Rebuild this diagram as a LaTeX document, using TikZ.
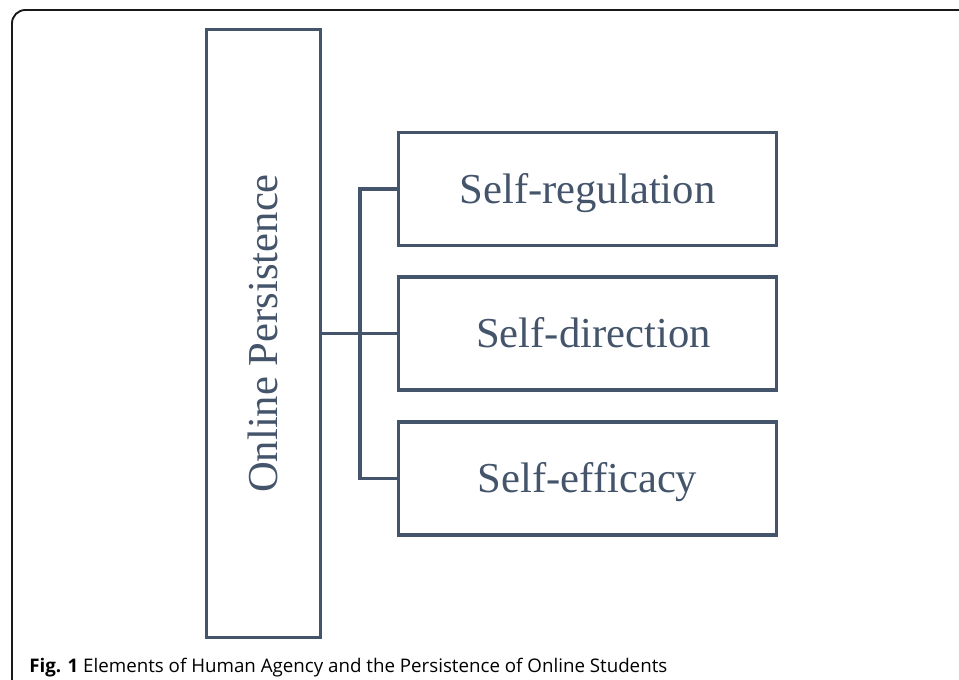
\documentclass[tikz,border=0pt]{standalone}
\usepackage{fontspec}
\setmainfont{Liberation Serif}
\newfontfamily\capfont{Open Sans}
\definecolor{slate}{HTML}{44546A}
\tikzset{
  box/.style={draw=slate, line width=2.5pt, text=slate, inner sep=0pt,
    font=\fontsize{32}{36}\selectfont, text height=21.2pt, text depth=0pt},
  link/.style={draw=slate, line width=2.5pt},
}
\begin{document}
\begin{tikzpicture}[x=0.75pt, y=-0.75pt]
\useasboundingbox (0,0) rectangle (959,680);
% outer frame
\draw[line width=1.4pt, black!90, rounded corners=10pt] (12,720) -- (12,10) -- (990,10);

% main block
\node[box, rotate=90, minimum width=456pt, minimum height=85.5pt] (op) at (263.5,333.5) {Online Persistence};

% three elements
\node[box, minimum width=283.5pt, minimum height=84.75pt] (sreg) at (587.5,189) {Self-regulation};
\node[box, minimum width=283.5pt, minimum height=84.75pt] (sdir) at (587.5,333.5) {\hspace*{9pt}Self-direction};
\node[box, minimum width=283.5pt, minimum height=84.75pt] (seff) at (587.5,478.5) {Self-efficacy};

% connectors
\draw[link] (op.south) -- (sdir.west);
\draw[link] (sreg.west) -- ++(-37,0) |- (seff.west);

% caption
\node[anchor=base west, inner sep=0pt, font=\capfont\fontsize{14.05}{17}\selectfont] (cap) at (29,672)
  {\textbf{Fig. 1} Elements of Human Agency and the Persistence of Online Students};
\end{tikzpicture}
\end{document}
